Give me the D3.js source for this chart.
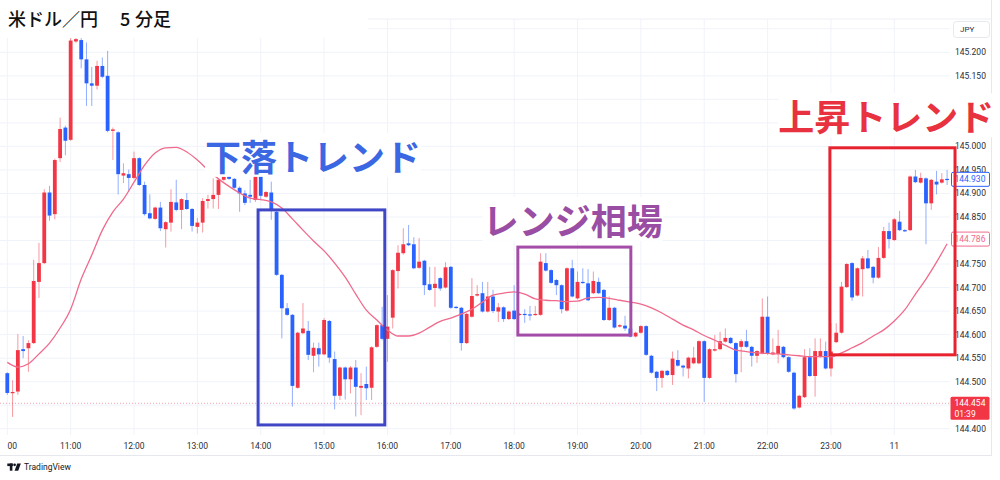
<!DOCTYPE html>
<html><head><meta charset="utf-8">
<script src="https://cdn.jsdelivr.net/npm/d3@7/dist/d3.min.js"></script>
<style>html,body{margin:0;padding:0;background:#fff}svg{display:block}</style>
</head><body>
<svg id="chart" width="1000" height="480"></svg>
<script>
// ---------- DATA ----------
const chartTitle = "米ドル／円";
const chartSubtitleNum = "5";
const chartSubtitle = "分足";
const currency = "JPY";
const startTime = new Date(2024, 5, 10, 10, 0); // first 5-minute bar at 10:00
const barMinutes = 5;

const opens = [144.518,144.476,144.479,144.569,144.571,144.582,144.712,144.752,144.902,144.856,
144.975,145.040,145.014,145.223,145.226,145.185,145.134,145.129,145.171,145.150,
145.033,145.030,144.938,144.941,144.933,144.975,144.918,144.858,144.846,144.870,
144.824,144.838,144.881,144.865,144.886,144.867,144.829,144.838,144.884,144.888,
144.897,144.929,144.938,144.931,144.912,144.900,144.897,144.886,144.946,144.893,
144.902,144.861,144.727,144.656,144.642,144.487,144.603,144.608,144.555,144.571,
144.558,144.629,144.548,144.470,144.530,144.505,144.530,144.487,144.495,144.487,
144.574,144.620,144.591,144.636,144.735,144.773,144.794,144.792,144.742,144.757,
144.707,144.699,144.720,144.700,144.744,144.659,144.657,144.582,144.638,144.683,
144.688,144.649,144.681,144.649,144.658,144.633,144.651,144.642,144.644,144.643,
144.642,144.642,144.752,144.737,144.716,144.705,144.651,144.741,144.677,144.712,
144.709,144.688,144.712,144.695,144.631,144.657,144.617,144.619,144.613,144.596,
144.604,144.618,144.555,144.521,144.508,144.523,144.514,144.546,144.534,144.528,
144.539,144.539,144.586,144.508,144.566,144.569,144.585,144.593,144.582,144.574,
144.586,144.574,144.555,144.560,144.638,144.558,144.559,144.574,144.552,144.519,
144.445,144.467,144.552,144.512,144.553,144.565,144.528,144.584,144.604,144.701,
144.752,144.683,144.739,144.762,144.744,144.721,144.763,144.820,144.801,144.840,
144.822,144.822,144.936,144.923,144.932,144.879,144.925,144.923,144.931];
const highs = [144.520,144.503,144.601,144.597,144.588,144.759,144.795,144.909,144.916,144.974,
145.061,145.044,145.235,145.240,145.230,145.221,145.169,145.182,145.189,145.203,
145.040,145.032,144.964,144.951,144.989,144.977,144.925,144.898,144.872,144.882,
144.841,144.909,144.929,144.890,144.901,144.869,144.848,144.890,144.897,144.932,
144.932,144.950,144.950,144.933,144.915,144.907,144.929,144.960,144.960,144.905,
144.925,144.863,144.729,144.667,144.644,144.606,144.667,144.629,144.583,144.583,
144.635,144.631,144.564,144.532,144.532,144.533,144.546,144.518,144.532,144.575,
144.622,144.659,144.684,144.739,144.790,144.826,144.833,144.807,144.805,144.759,
144.744,144.744,144.722,144.754,144.746,144.661,144.659,144.646,144.720,144.705,
144.712,144.712,144.695,144.667,144.660,144.651,144.705,144.646,144.654,144.661,
144.661,144.773,144.773,144.739,144.718,144.707,144.743,144.759,144.734,144.741,
144.739,144.734,144.721,144.697,144.681,144.659,144.622,144.640,144.615,144.606,
144.620,144.620,144.557,144.523,144.525,144.525,144.564,144.567,144.536,144.553,
144.574,144.588,144.588,144.571,144.599,144.606,144.613,144.595,144.584,144.590,
144.610,144.576,144.567,144.677,144.681,144.592,144.610,144.576,144.554,144.521,
144.472,144.569,144.571,144.592,144.592,144.585,144.624,144.624,144.712,144.752,
144.754,144.743,144.767,144.780,144.746,144.786,144.829,144.838,144.848,144.863,
144.824,144.938,144.950,144.944,144.934,144.931,144.948,144.943,144.950];
const lows = [144.472,144.425,144.472,144.550,144.521,144.580,144.678,144.750,144.842,144.845,
144.967,144.981,145.012,145.220,145.166,145.086,145.086,145.121,145.145,145.030,
144.971,144.898,144.922,144.904,144.930,144.916,144.853,144.845,144.844,144.820,
144.785,144.819,144.862,144.824,144.865,144.819,144.815,144.817,144.868,144.868,
144.867,144.927,144.929,144.910,144.861,144.875,144.880,144.882,144.886,144.891,
144.844,144.725,144.592,144.640,144.447,144.485,144.601,144.546,144.520,144.532,
144.556,144.540,144.441,144.461,144.462,144.475,144.426,144.429,144.461,144.461,
144.572,144.588,144.542,144.613,144.698,144.770,144.788,144.739,144.740,144.684,
144.693,144.659,144.693,144.698,144.655,144.655,144.566,144.580,144.636,144.681,
144.647,144.647,144.646,144.627,144.627,144.631,144.631,144.640,144.625,144.630,
144.640,144.640,144.734,144.708,144.684,144.645,144.649,144.679,144.675,144.708,
144.671,144.686,144.686,144.629,144.629,144.613,144.615,144.608,144.594,144.594,
144.602,144.555,144.517,144.480,144.487,144.512,144.493,144.532,144.511,144.507,
144.537,144.537,144.457,144.506,144.564,144.567,144.583,144.580,144.498,144.520,
144.572,144.532,144.540,144.558,144.557,144.556,144.539,144.550,144.519,144.440,
144.443,144.465,144.510,144.468,144.551,144.526,144.511,144.582,144.602,144.699,
144.672,144.681,144.681,144.739,144.709,144.719,144.761,144.783,144.799,144.820,
144.818,144.820,144.922,144.921,144.792,144.865,144.898,144.921,144.918];
const closes = [144.476,144.478,144.567,144.565,144.582,144.714,144.752,144.902,144.853,144.971,
145.037,145.012,145.225,145.228,145.185,145.134,145.129,145.171,145.148,145.033,
145.036,144.941,144.943,144.933,144.975,144.918,144.856,144.847,144.870,144.826,
144.839,144.882,144.865,144.888,144.867,144.831,144.838,144.884,144.888,144.897,
144.929,144.936,144.931,144.912,144.900,144.880,144.893,144.939,144.895,144.903,
144.865,144.727,144.656,144.642,144.491,144.604,144.613,144.557,144.572,144.558,
144.631,144.551,144.470,144.530,144.505,144.530,144.489,144.491,144.486,144.573,
144.620,144.591,144.617,144.737,144.774,144.792,144.790,144.741,144.755,144.705,
144.695,144.708,144.698,144.743,144.657,144.657,144.582,144.644,144.682,144.686,
144.649,144.681,144.650,144.658,144.633,144.649,144.633,144.644,144.642,144.641,
144.644,144.755,144.736,144.710,144.705,144.654,144.741,144.681,144.712,144.711,
144.673,144.714,144.688,144.631,144.657,144.615,144.620,144.613,144.596,144.604,
144.618,144.557,144.519,144.508,144.523,144.514,144.549,144.534,144.530,144.551,
144.551,144.586,144.508,144.569,144.569,144.586,144.593,144.582,144.516,144.586,
144.574,144.555,144.565,144.638,144.559,144.562,144.576,144.552,144.521,144.443,
144.470,144.552,144.512,144.565,144.565,144.528,144.564,144.604,144.702,144.750,
144.679,144.741,144.762,144.741,144.721,144.763,144.820,144.803,144.845,144.822,
144.820,144.936,144.924,144.933,144.879,144.929,144.919,144.930,144.930];

// moving average, read at every second bar
const maBarIndex = [0,2,4,6,8,10,12,14,16,18,20,22,24,26,28,30,32,34,36,38,40,42,44,46,48,50,52,54,56,58,60,
62,64,66,68,70,72,74,76,78,80,82,84,86,88,90,92,94,96,98,100,102,104,106,108,110,112,114,116,118,120,
122,124,126,128,130,132,134,136,138,140,142,144,146,148,150,152,154,156,158,160,162,164,166,168,170,172,174,176,178];
const maValues = [144.541,144.531,144.538,144.559,144.582,144.614,144.654,144.718,144.769,144.822,144.861,
144.888,144.924,144.960,144.986,144.997,144.998,144.988,144.971,144.950,144.931,144.915,144.901,144.890,
144.887,144.882,144.869,144.846,144.822,144.799,144.778,144.752,144.722,144.686,144.652,144.631,144.610,
144.597,144.597,144.603,144.616,144.628,144.635,144.644,144.654,144.669,144.684,144.688,144.691,144.686,
144.676,144.673,144.672,144.670,144.671,144.678,144.679,144.677,144.673,144.669,144.665,144.657,144.646,
144.633,144.620,144.610,144.598,144.588,144.577,144.567,144.564,144.561,144.560,144.559,144.557,144.555,
144.553,144.553,144.553,144.561,144.572,144.583,144.597,144.610,144.629,144.653,144.686,144.718,144.754,144.793];

// grid levels, and the axis labels that are visible in the picture
const gridPrices = [144.40,144.45,144.50,144.55,144.60,144.65,144.70,144.75,144.80,144.85,144.90,144.95,145.00,145.05,145.10,145.15,145.20,145.25];
const priceLabels = [144.40,144.50,144.55,144.60,144.65,144.70,144.75,144.85,144.90,144.95,145.00,145.15,145.20];
const firstTimeLabel = "00"; // the 10:00 label is cut at the left edge
const lastPriceLabel = 144.930;
const maLabel = 144.786;
const linePrice = 144.454;
const lineCountdown = "01:39";

// annotations: bar-index range and price range
const annoTexts = ["下落トレンド", "レンジ相場", "上昇トレンド"];
const annoFrom  = [47.5, 96.7, 155.8];
const annoTo    = [71.5, 118.1, 179.5];
const annoHigh  = [144.865, 144.786, 144.997];
const annoLow   = [144.408, 144.599, 144.557];
const annoTextBar   = [57.9, 107.1, 166.5];
const annoTextPrice = [144.982, 144.846, 145.066];

// ---------- STYLE ----------
const UP = "#f23645", DOWN = "#2962ff";
const annoTextColor = ["#3b67e3", "#9a4ea3", "#e8323f"];
const annoBoxColor  = ["#4047c6", "#a34da8", "#e8232f"];
const axisFont = "Roboto, 'Liberation Sans', sans-serif";
const jpFont = "'Noto Sans CJK JP', 'Noto Sans', sans-serif";

const svg = d3.select("#chart");
const W = 1000, H = 480;
const plotL = 0, plotR = 950, plotT = 19, plotB = 435;

const barTime = i => new Date(+startTime + i * barMinutes * 60000);
const times = opens.map((_, i) => barTime(i));
const N = opens.length;

const x = d3.scaleTime().domain([times[0], times[N - 1]]).range([7.3, 947.1]);
const xi = i => x(barTime(i));
const y = d3.scaleLinear().domain([144.4, 145.2]).range([428.7, 52.3]);

svg.append("rect").attr("width", W).attr("height", H).attr("fill", "#fff");

const defs = svg.append("defs");
defs.append("clipPath").attr("id", "plotClip").append("rect")
  .attr("x", plotL).attr("y", plotT).attr("width", plotR - plotL).attr("height", plotB - plotT);

// grid
const grid = svg.append("g").attr("clip-path", "url(#plotClip)");
const hourTicks = x.ticks(d3.timeHour.every(1));
grid.selectAll("line.v").data(hourTicks).join("line")
  .attr("x1", d => x(d)).attr("x2", d => x(d)).attr("y1", plotT).attr("y2", plotB)
  .attr("stroke", "#f0f3fa").attr("stroke-width", 1);
grid.selectAll("line.h").data(gridPrices).join("line")
  .attr("x1", plotL).attr("x2", plotR).attr("y1", d => y(d)).attr("y2", d => y(d))
  .attr("stroke", "#f0f3fa").attr("stroke-width", 1);

// frame lines
svg.append("line").attr("x1", 0).attr("x2", 992).attr("y1", plotT).attr("y2", plotT).attr("stroke", "#eef0f5");
svg.append("line").attr("x1", 991.5).attr("x2", 991.5).attr("y1", 0).attr("y2", 455.5).attr("stroke", "#e6e8ee");
svg.append("line").attr("x1", 0).attr("x2", 992).attr("y1", 455.5).attr("y2", 455.5).attr("stroke", "#e6e8ee");

const plot = svg.append("g").attr("clip-path", "url(#plotClip)");

// dotted price line
plot.append("line").attr("x1", plotL).attr("x2", plotR)
  .attr("y1", y(linePrice)).attr("y2", y(linePrice))
  .attr("stroke", "#f7a1aa").attr("stroke-width", 1).attr("stroke-dasharray", "1,2");

// candles
const bars = opens.map((o, i) => ({i, o, h: highs[i], l: lows[i], c: closes[i]}));
const bw = 3.8;
plot.selectAll("line.wick").data(bars).join("line")
  .attr("x1", d => xi(d.i)).attr("x2", d => xi(d.i))
  .attr("y1", d => y(d.h)).attr("y2", d => y(d.l))
  .attr("stroke", d => d.c >= d.o ? UP : DOWN).attr("stroke-opacity", 0.5).attr("stroke-width", 1);
plot.selectAll("rect.body").data(bars).join("rect")
  .attr("x", d => xi(d.i) - bw / 2).attr("width", bw)
  .attr("y", d => y(Math.max(d.o, d.c)))
  .attr("height", d => Math.max(1.2, Math.abs(y(d.o) - y(d.c))))
  .attr("fill", d => d.c >= d.o ? UP : DOWN);

// moving average
const maLine = d3.line().x((d, k) => xi(maBarIndex[k])).y(d => y(d)).curve(d3.curveMonotoneX);
plot.append("path").datum(maValues).attr("d", maLine)
  .attr("fill", "none").attr("stroke", "#f06a8c").attr("stroke-width", 1.3);

// title box covers top-left
svg.append("rect").attr("x", 0).attr("y", 0).attr("width", 368).attr("height", 38).attr("fill", "#fff");
svg.append("text").attr("x", 8).attr("y", 18).attr("dominant-baseline", "central")
  .attr("font-family", jpFont).attr("font-size", 18).attr("font-weight", 500).attr("fill", "#111")
  .text(chartTitle);
svg.append("text").attr("x", 120).attr("y", 18).attr("dominant-baseline", "central")
  .attr("font-family", jpFont).attr("font-size", 18).attr("font-weight", 500).attr("fill", "#111")
  .text(chartSubtitleNum);
svg.append("text").attr("x", 135).attr("y", 18).attr("dominant-baseline", "central")
  .attr("font-family", jpFont).attr("font-size", 18).attr("font-weight", 500).attr("fill", "#111")
  .text(chartSubtitle);

// price axis labels
const fmt = d3.format(".3f");
svg.append("g").selectAll("text").data(priceLabels).join("text")
  .attr("x", 955).attr("y", d => y(d)).attr("dominant-baseline", "central")
  .attr("font-family", axisFont).attr("font-size", 8.5).attr("fill", "#2a2e39")
  .text(d => fmt(d));

// time axis labels
const timeFmt = d => d.getHours() === 0 ? String(d.getDate()) : d3.timeFormat("%H:%M")(d);
svg.append("g").selectAll("text").data(hourTicks).join("text")
  .attr("x", (d, k) => k === 0 ? 7.5 : x(d)).attr("y", 446)
  .attr("text-anchor", (d, k) => k === 0 ? "start" : "middle").attr("dominant-baseline", "central")
  .attr("font-family", axisFont).attr("font-size", 8.5).attr("fill", "#2a2e39")
  .text((d, k) => k === 0 ? firstTimeLabel : timeFmt(d));

// JPY box
svg.append("rect").attr("x", 953.5).attr("y", 21.5).attr("width", 36).attr("height", 16).attr("rx", 3)
  .attr("fill", "#fff").attr("stroke", "#e6e8ee");
svg.append("text").attr("x", 960).attr("y", 29.5).attr("dominant-baseline", "central")
  .attr("font-family", axisFont).attr("font-size", 8).attr("fill", "#2a2e39").text(currency);

// price labels on axis
function outlinedLabel(cy, txt, color) {
  svg.append("rect").attr("x", 951.5).attr("y", cy - 7).attr("width", 38).attr("height", 14).attr("rx", 1.5)
    .attr("fill", "#fff").attr("stroke", color).attr("stroke-width", 1);
  svg.append("text").attr("x", 954.5).attr("y", cy).attr("dominant-baseline", "central")
    .attr("font-family", axisFont).attr("font-size", 8.5).attr("fill", color).text(txt);
}
outlinedLabel(y(lastPriceLabel), fmt(lastPriceLabel), DOWN);
outlinedLabel(y(maLabel) - 8, fmt(maLabel), "#f06a8c");
const ly = y(linePrice);
svg.append("rect").attr("x", 950.5).attr("y", ly - 6.5).attr("width", 39).attr("height", 23).attr("rx", 1.5)
  .attr("fill", "#f23645");
svg.append("text").attr("x", 954.5).attr("y", ly).attr("dominant-baseline", "central")
  .attr("font-family", axisFont).attr("font-size", 8.5).attr("fill", "#fff").text(fmt(linePrice));
svg.append("text").attr("x", 954.5).attr("y", ly + 10.5).attr("dominant-baseline", "central")
  .attr("font-family", axisFont).attr("font-size", 8.5).attr("fill", "#fff").text(lineCountdown);

// annotations
annoTexts.forEach((t, k) => {
  const x0 = xi(annoFrom[k]), x1 = xi(annoTo[k]);
  svg.append("rect").attr("x", x0).attr("y", y(annoHigh[k]))
    .attr("width", x1 - x0).attr("height", y(annoLow[k]) - y(annoHigh[k]))
    .attr("fill", "none").attr("stroke", annoBoxColor[k]).attr("stroke-width", 3);
  const cx = xi(annoTextBar[k]), cy = y(annoTextPrice[k]);
  const tg = svg.append("g");
  const bg = tg.append("rect").attr("fill", "#fff");
  const tx = tg.append("text").attr("x", cx).attr("y", cy).attr("text-anchor", "middle")
    .attr("dominant-baseline", "central").attr("font-family", jpFont).attr("font-size", 36)
    .attr("font-weight", 700).attr("fill", annoTextColor[k]).text(t);
  const bb = tx.node().getBBox();
  bg.attr("x", bb.x).attr("y", bb.y + 4).attr("width", bb.width).attr("height", bb.height - 8);
});

// TradingView logo
const logo = svg.append("g").attr("fill", "#131722");
logo.append("rect").attr("x", 7.3).attr("y", 463.5).attr("width", 5.6).attr("height", 2.6);
logo.append("rect").attr("x", 9.8).attr("y", 463.5).attr("width", 2.6).attr("height", 7.2);
logo.append("circle").attr("cx", 14.6).attr("cy", 464.8).attr("r", 1.35);
logo.append("path").attr("d", "M17.2,463.5 L20.9,463.5 L18.2,470.7 L14.6,470.7 Z");
svg.append("text").attr("x", 24).attr("y", 467.2).attr("dominant-baseline", "central")
  .attr("font-family", axisFont).attr("font-size", 8.5).attr("fill", "#131722").text("TradingView");
</script>
</body></html>
